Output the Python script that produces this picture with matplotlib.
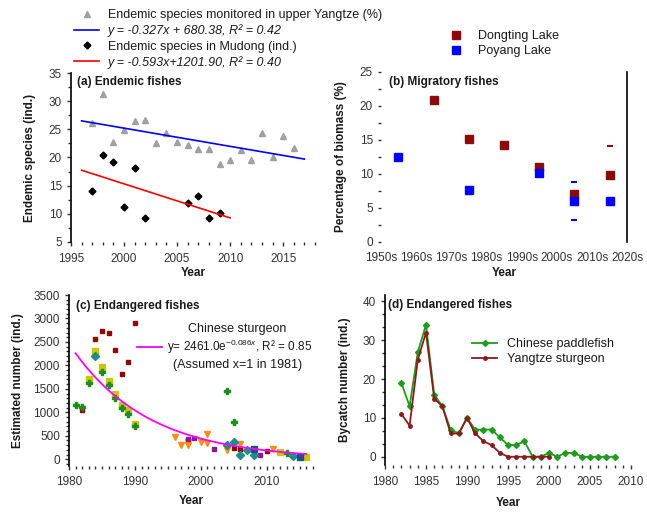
import numpy as np
import matplotlib.pyplot as plt
from matplotlib.ticker import MultipleLocator, AutoMinorLocator
from matplotlib.lines import Line2D

plt.rcParams.update({"font.family": ["Liberation Sans", "DejaVu Sans"],
                     "font.size": 8.5,
                     "mathtext.fontset": "custom",
                     "mathtext.rm": "Liberation Sans",
                     "mathtext.it": "Liberation Sans:italic",
                     "axes.linewidth": 1.2})

# ---- (a) endemic fishes
yangtze_years = [1997, 1998, 1999, 2000, 2001, 2002, 2003, 2004, 2005, 2006,
                 2007, 2008, 2009, 2010, 2011, 2012, 2013, 2014, 2015, 2016]
yangtze_pct = [26.1, 31.2, 22.7, 24.9, 26.4, 26.6, 22.6, 24.3, 22.7, 22.3,
               21.5, 21.5, 18.9, 19.6, 21.3, 19.6, 24.3, 20.1, 23.9, 21.7]
mudong_years = [1997, 1998, 1999, 2000, 2001, 2002, 2006, 2007, 2008, 2009]
mudong_ind = [14.1, 20.4, 19.2, 11.3, 18.2, 9.2, 12.0, 13.2, 9.2, 10.1]
legend_a = ["Endemic species monitored in upper Yangtze (%)",
            "y = -0.327x + 680.38, R² = 0.42",
            "Endemic species in Mudong (ind.)",
            "y = -0.593x+1201.90, R² = 0.40"]

# ---- (b) migratory fishes
decades = [1950, 1960, 1970, 1980, 1990, 2000, 2010, 2020]
decade_labels = ["1950s", "1960s", "1970s", "1980s", "1990s", "2000s", "2010s", "2020s"]
dongting_years = [1965, 1975, 1985, 1995, 2005, 2015]
dongting_pct = [20.9, 15.1, 14.2, 10.9, 7.0, 9.8]
dongting_err = [0, 0, 0, 0, 0, 4.3]
poyang_years = [1955, 1975, 1995, 2005, 2015]
poyang_pct = [12.5, 7.6, 10.1, 6.0, 5.9]
poyang_err = [0, 0, 0, 2.8, 0]

# ---- (c) Chinese sturgeon estimates
darkred_years = [1982, 1984, 1985, 1986, 1987, 1988, 1989, 1990, 2005, 2006, 2010]
darkred_vals = [1040, 2570, 2740, 2700, 2330, 1820, 2080, 2910, 234, 213, 183]
yellow_years = [1983, 1984, 1985, 1986, 1987, 1988, 1989, 1990, 2012, 2016]
yellow_vals = [1700, 2310, 1970, 1670, 1390, 1157, 1050, 760, 162, 42]
green_years = [1981, 1982, 1983, 1985, 1986, 1987, 1988, 1989, 1990, 2004, 2005, 2013]
green_vals = [1157, 1120, 1630, 1866, 1583, 1300, 1090, 970, 700, 1462, 801, 141]
orange_years = [1996, 1997, 1998, 1998, 2000, 2001, 2001, 2004, 2006, 2011]
orange_vals = [480, 305, 375, 305, 375, 540, 341, 198, 326, 213]
purple_years = [1998, 1999, 2002, 2009]
purple_vals = [430, 450, 213, 92]
teal_years = [1984, 2004, 2005, 2006, 2007, 2008, 2014]
teal_vals = [2200, 305, 375, 100, 198, 92, 70]
navy_years = [2008, 2015]
navy_vals = [213, 56]
fit_a, fit_k, fit_base = 2461.0, 0.086, 1980

# ---- (d) bycatch
paddle_years = [1982, 1983, 1984, 1985, 1986, 1987, 1988, 1989, 1990, 1991, 1992,
                1993, 1994, 1995, 1996, 1997, 1998, 1999, 2000, 2001, 2002, 2003,
                2004, 2005, 2006, 2007, 2008]
paddle_n = [19, 13, 27, 34, 16, 13, 7, 6, 10, 7, 7,
            7, 5, 3, 3, 4, 0, 0, 1, 0, 1, 1,
            0, 0, 0, 0, 0]
sturgeon_years = [1982, 1983, 1984, 1985, 1986, 1987, 1988, 1989, 1990, 1991,
                  1992, 1993, 1994, 1995, 1996, 1997, 1998, 1999, 2000]
sturgeon_n = [11, 8, 25, 32, 15, 13, 6, 6, 10, 6,
              4, 3, 1, 0, 0, 0, 0, 0, 0]

W, H = 647, 512
fig = plt.figure(figsize=(W / 100, H / 100), dpi=100)


def px_axes(left, top, right, bottom):
    return fig.add_axes([left / W, 1 - bottom / H, (right - left) / W, (bottom - top) / H])


def style(ax, keep, xpad):
    for s in ["left", "right", "top", "bottom"]:
        ax.spines[s].set_visible(s in keep)
    ax.tick_params(which="both", direction="out", labelsize=8.5, labelcolor="#333333",
                   color="#333333", width=1)
    ax.tick_params(which="major", length=3)
    ax.tick_params(which="minor", length=2)
    ax.tick_params(axis="x", pad=xpad)


TEXT = "#1a1a1a"
LEG = 9

# (a)
ax = px_axes(71, 73, 315, 242)
style(ax, ["left"], 5)
ax.plot(yangtze_years, yangtze_pct, "^", color="#a0a0a0", ms=5, ls="none")
ax.plot(mudong_years, mudong_ind, "D", color="black", ms=3.5, ls="none")
pb = np.polyfit(yangtze_years, yangtze_pct, 1)
pr = np.polyfit(mudong_years, mudong_ind, 1)
xb = np.array([1996, 2017])
xr = np.array([1996, 2010])
ax.plot(xb, np.polyval(pb, xb), color="#0000ff", lw=1.2)
ax.plot(xr, np.polyval(pr, xr), color="#ff0000", lw=1.2)
ax.set_xlim(1995, 2018)
ax.set_ylim(5, 35)
ax.xaxis.set_major_locator(MultipleLocator(5))
ax.xaxis.set_minor_locator(MultipleLocator(1))
ax.yaxis.set_major_locator(MultipleLocator(5))
ax.yaxis.set_minor_locator(MultipleLocator(2.5))
ax.set_xlabel("Year", fontweight="bold", color=TEXT)
ax.set_ylabel("Endemic species (ind.)", fontweight="bold", color=TEXT)
ax.xaxis.set_label_coords(0.5, -0.148)
ax.yaxis.set_label_coords(-0.143, 0.5)
ax.text(0.025, 0.945, "(a) Endemic fishes", transform=ax.transAxes, fontweight="bold",
        va="center", ha="left", color=TEXT)
handles_a = [Line2D([], [], marker="^", color="#a0a0a0", ls="none", ms=5),
             Line2D([], [], color="#0000ff", lw=1.2),
             Line2D([], [], marker="D", color="black", ls="none", ms=3.5),
             Line2D([], [], color="#ff0000", lw=1.2)]
leg = fig.legend(handles_a, legend_a, loc="upper left", bbox_to_anchor=(74 / W, 1 - 9 / H),
                 frameon=False, fontsize=LEG, handlelength=2.0, handletextpad=0.7,
                 labelspacing=0.27, borderpad=0, borderaxespad=0)
for i, t in enumerate(leg.get_texts()):
    t.set_color(TEXT)
    if i % 2 == 1:
        t.set_style("italic")

# (b)
ax = px_axes(380.7, 71.7, 627.3, 241.5)
style(ax, ["right"], 7.3)
ax.errorbar(dongting_years, dongting_pct, yerr=dongting_err, fmt="s", color="#8b0a0a",
            ms=6, elinewidth=0, capsize=2, capthick=1.5, label="Dongting Lake")
ax.errorbar(poyang_years, poyang_pct, yerr=poyang_err, fmt="s", color="#0000ff",
            ms=6, elinewidth=0, capsize=2, capthick=1.5, label="Poyang Lake")
ax.set_xlim(1950, 2020)
ax.set_ylim(0, 25)
ax.set_xticks(decades)
ax.set_xticklabels(decade_labels)
ax.tick_params(axis="x", length=0)
ax.yaxis.set_major_locator(MultipleLocator(5))
ax.yaxis.set_minor_locator(MultipleLocator(2.5))
ax.tick_params(axis="y", which="both", length=2)
ax.set_xlabel("Year", fontweight="bold", color=TEXT)
ax.set_ylabel("Percentage of biomass (%)", fontweight="bold", color=TEXT)
ax.xaxis.set_label_coords(0.5, -0.15)
ax.yaxis.set_label_coords(-0.137, 0.5)
ax.text(0.034, 0.94, "(b) Migratory fishes", transform=ax.transAxes, fontweight="bold",
        va="center", ha="left", color=TEXT)
hb = [Line2D([], [], marker="s", color="#8b0a0a", ls="none", ms=6),
      Line2D([], [], marker="s", color="#0000ff", ls="none", ms=6)]
leg = fig.legend(hb, ["Dongting Lake", "Poyang Lake"], loc="upper left",
                 bbox_to_anchor=(450 / W, 1 - 30 / H), frameon=False, fontsize=LEG,
                 handlelength=1.0, handletextpad=1.2, labelspacing=0.25,
                 borderpad=0, borderaxespad=0)
for t in leg.get_texts():
    t.set_color(TEXT)

# (c)
ax = px_axes(69, 295, 313, 466.3)
style(ax, ["left"], 4.1)
ax.plot(darkred_years, darkred_vals, "s", color="#8b0a0a", ms=3)
ax.plot(yellow_years, yellow_vals, "s", color="#c8c800", ms=5)
ax.plot(green_years, green_vals, "P", color="#1e8c1e", ms=5)
ax.plot(orange_years, orange_vals, "v", color="#ff8c1a", ms=5)
ax.plot(purple_years, purple_vals, "s", color="#8b1a8b", ms=3.5)
ax.plot(teal_years, teal_vals, "D", color="#1f8c8c", ms=4)
ax.plot(navy_years, navy_vals, "s", color="#1f4e8c", ms=4.5)
yr = np.linspace(1981, 2016, 200)
curve, = ax.plot(yr, fit_a * np.exp(-fit_k * (yr - fit_base)), color="#ff00ff", lw=1.3)
ax.set_xlim(1980, 2017)
ax.set_ylim(-150, 3500)
ax.xaxis.set_major_locator(MultipleLocator(10))
ax.xaxis.set_minor_locator(MultipleLocator(1))
ax.yaxis.set_major_locator(MultipleLocator(500))
ax.yaxis.set_minor_locator(MultipleLocator(100))
ax.set_xlabel("Year", fontweight="bold", color=TEXT)
ax.set_ylabel("Estimated number (ind.)", fontweight="bold", color=TEXT)
ax.xaxis.set_label_coords(0.5, -0.168)
ax.yaxis.set_label_coords(-0.184, 0.5)
ax.text(0.029, 0.936, "(c) Endangered fishes", transform=ax.transAxes, fontweight="bold",
        va="center", ha="left", color=TEXT)
leg = ax.legend([curve], ["y= 2461.0e$^{-0.086x}$, R² = 0.85"], loc="upper left",
                bbox_to_anchor=(137 / W, 1 - 338 / H), bbox_transform=fig.transFigure,
                frameon=False, fontsize=8.5, handlelength=2.1, handletextpad=0.4,
                borderpad=0, borderaxespad=0)
for t in leg.get_texts():
    t.set_color(TEXT)
fig.text(237 / W, 1 - 329 / H, "Chinese sturgeon", ha="center", va="center",
         color=TEXT, fontsize=LEG)
fig.text(238 / W, 1 - 365 / H, "(Assumed x=1 in 1981)", ha="center", va="center",
         color=TEXT, fontsize=LEG)

# (d)
ax = px_axes(385, 294.9, 631, 464.5)
style(ax, ["left"], 5.4)
ax.plot(paddle_years, paddle_n, "-D", color="#1e9a1e", ms=3, lw=1.3, label="Chinese paddlefish")
ax.plot(sturgeon_years, sturgeon_n, "-o", color="#8b1a1a", ms=2.5, lw=1.3, label="Yangtze sturgeon")
ax.set_xlim(1980, 2010)
ax.set_ylim(-2, 41.7)
ax.xaxis.set_major_locator(MultipleLocator(5))
ax.xaxis.set_minor_locator(MultipleLocator(1))
ax.yaxis.set_major_locator(MultipleLocator(10))
ax.yaxis.set_minor_locator(AutoMinorLocator(3))
ax.set_xlabel("Year", fontweight="bold", color=TEXT)
ax.set_ylabel("Bycatch number (ind.)", fontweight="bold", color=TEXT)
ax.xaxis.set_label_coords(0.5, -0.189)
ax.yaxis.set_label_coords(-0.138, 0.5)
ax.text(0.012, 0.94, "(d) Endangered fishes", transform=ax.transAxes, fontweight="bold",
        va="center", ha="left", color=TEXT)
leg = ax.legend(loc="upper left", bbox_to_anchor=(472 / W, 1 - 338 / H),
                bbox_transform=fig.transFigure, frameon=False, fontsize=LEG,
                handlelength=2.0, handletextpad=0.8, labelspacing=0.25,
                borderpad=0, borderaxespad=0)
for t in leg.get_texts():
    t.set_color(TEXT)

fig.savefig("out.png", dpi=100)
